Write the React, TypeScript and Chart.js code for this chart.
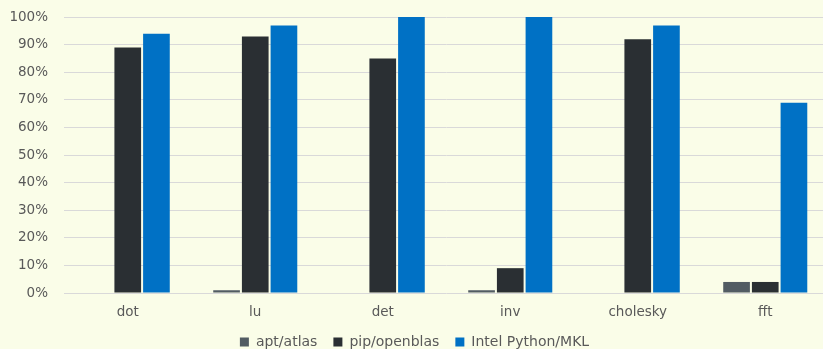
import React, { useEffect, useRef } from "react";
import { Chart, registerables } from "chart.js";

Chart.register(...registerables);

const categories = ["dot", "lu", "det", "inv", "cholesky", "fft"];
const aptAtlas = [0, 1, 0, 1, 0, 4];
const pipOpenblas = [89, 93, 85, 9, 92, 4];
const intelMkl = [94, 97, 100, 100, 97, 69];
const seriesNames = ["apt/atlas", "pip/openblas", "Intel Python/MKL"];
const yTicks = [0, 10, 20, 30, 40, 50, 60, 70, 80, 90, 100];

const BG = "#FAFDE8";
const TEXT = "#595959";
const FONT = "'DejaVu Sans', sans-serif";

export default function App() {
  const ref = useRef<HTMLCanvasElement | null>(null);

  useEffect(() => {
    if (!ref.current) return;
    const bgPlugin = {
      id: "bg",
      beforeDraw(chart: any) {
        const { ctx, width, height } = chart;
        ctx.save();
        ctx.fillStyle = BG;
        ctx.fillRect(0, 0, width, height);
        ctx.restore();
      },
    };
    const legendFitPlugin = {
      id: "legendFit",
      beforeLayout(chart: any) {
        const legend = chart.legend;
        if (legend && !legend._patched) {
          const orig = legend.fit.bind(legend);
          legend.fit = function () {
            orig();
            this.height = 30;
          };
          legend._patched = true;
        }
      },
    };
    const common = { categoryPercentage: 0.675, barPercentage: 0.93 };
    const chart = new Chart(ref.current, {
      type: "bar",
      data: {
        labels: categories,
        datasets: [
          { label: seriesNames[0], data: aptAtlas, backgroundColor: "#525C63", ...common },
          { label: seriesNames[1], data: pipOpenblas, backgroundColor: "#2A2F33", ...common },
          { label: seriesNames[2], data: intelMkl, backgroundColor: "#0071C5", ...common },
        ],
      },
      options: {
        animation: false,
        responsive: true,
        maintainAspectRatio: false,
        layout: { padding: { top: 10, right: 21, left: 0, bottom: 0 } },
        plugins: {
          tooltip: { enabled: false },
          legend: {
            position: "bottom",
            labels: {
              color: TEXT,
              font: { family: FONT, size: 14 },
              boxWidth: 9,
              boxHeight: 9,
              padding: 16,
            },
          },
        },
        scales: {
          x: {
            grid: { display: false, drawTicks: false },
            border: { display: false },
            ticks: { color: TEXT, font: { family: FONT, size: 13.5 }, padding: 11 },
            afterFit(scale: any) {
              scale.height = 26;
            },
          },
          y: {
            min: 0,
            max: 100,
            afterBuildTicks(scale: any) {
              scale.ticks = yTicks.map((v) => ({ value: v }));
            },
            afterFit(scale: any) {
              scale.width = 64;
            },
            grid: { color: "#D9D9D9", lineWidth: 1, drawTicks: true, tickLength: 7, tickColor: "rgba(0,0,0,0)" },
            border: { display: false },
            ticks: {
              color: TEXT,
              font: { family: FONT, size: 13.5 },
              padding: 9,
              callback: (v: any) => v + "%",
            },
          },
        },
      },
      plugins: [bgPlugin, legendFitPlugin],
    } as any);
    return () => chart.destroy();
  }, []);

  return (
    <div style={{ position: "fixed", left: 0, top: 0, width: 823, height: 349, overflow: "hidden", background: BG }}>
      <div style={{ position: "absolute", left: 0, top: 0, width: 850, height: 349 }}>
        <canvas ref={ref} />
      </div>
    </div>
  );
}
